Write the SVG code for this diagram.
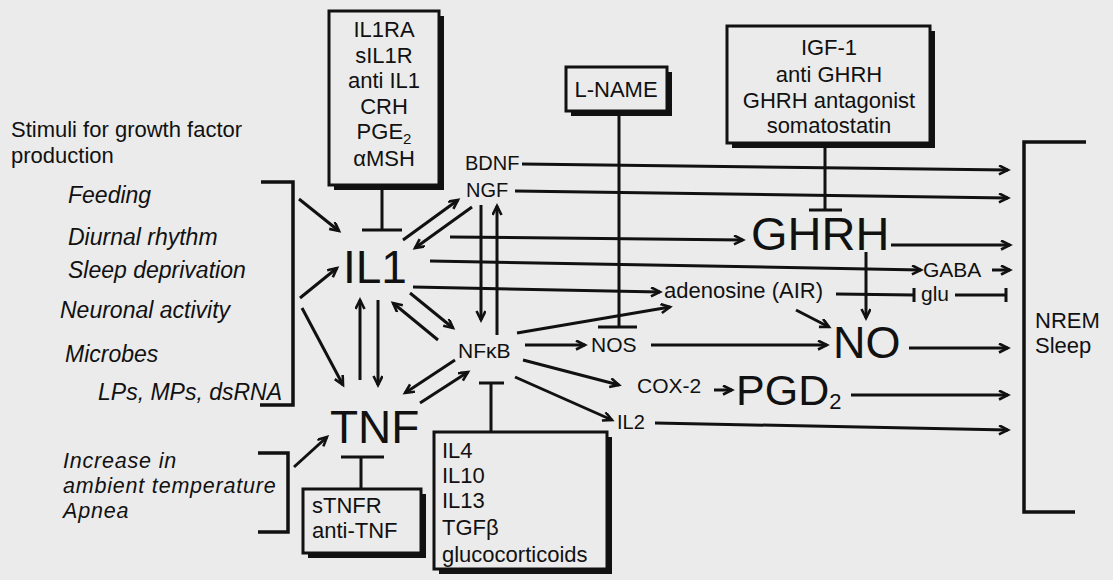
<svg xmlns="http://www.w3.org/2000/svg" width="1113" height="580" viewBox="0 0 1113 580">
<defs>
<style>
.ln{stroke:#111;stroke-width:3;fill:none;stroke-linecap:butt}
.br{stroke:#111;stroke-width:3.5;fill:none}
.ar{marker-end:url(#ah)}
.t{font-family:"Liberation Sans",Arial,Helvetica,sans-serif;fill:#111}
.i{font-style:italic;font-size:23px}
.i2{font-style:italic;font-size:21.5px;letter-spacing:0.8px}
.s{font-size:22px}
.c{text-anchor:middle}
.big{font-size:46px}
.box{fill:#ebebeb;stroke:#111;stroke-width:3}
.sh{fill:#111}
</style>
<marker id="ah" markerUnits="userSpaceOnUse" markerWidth="14" markerHeight="14" refX="10" refY="5" orient="auto">
<path d="M1,0.5 L10,5 L1,9.5" fill="none" stroke="#111" stroke-width="2.6"/>
</marker>
</defs>
<rect x="0" y="0" width="1113" height="580" fill="#ebebeb"/>

<g id="stimuli-label">
<text class="t" x="11" y="137" font-size="22">Stimuli for growth factor</text>
<text class="t" x="11" y="163" font-size="22">production</text>
</g>
<g id="stimuli-il1">
<text class="t i" x="68" y="203">Feeding</text>
<text class="t i" x="68" y="245">Diurnal rhythm</text>
<text class="t i" x="68" y="278">Sleep deprivation</text>
<text class="t i" x="60" y="318">Neuronal activity</text>
<text class="t i" x="65" y="362">Microbes</text>
<text class="t i" x="98" y="400">LPs, MPs, dsRNA</text>
</g>
<g id="stimuli-tnf">
<text class="t i2" x="63" y="468">Increase in</text>
<text class="t i2" x="63" y="493">ambient temperature</text>
<text class="t i2" x="63" y="518">Apnea</text>
</g>

<g id="il1-inhibitors">
<rect class="sh" x="334" y="16" width="110" height="174"/>
<rect class="box" x="329" y="11" width="110" height="174"/>
<text class="t s c" x="384" y="37">IL1RA</text>
<text class="t s c" x="384" y="63">sIL1R</text>
<text class="t s c" x="384" y="88">anti IL1</text>
<text class="t s c" x="384" y="114">CRH</text>
<text class="t s c" x="384" y="139">PGE<tspan font-size="15" dy="5">2</tspan></text>
<text class="t s c" x="384" y="166">αMSH</text>
</g>

<g id="lname">
<rect class="sh" x="571" y="72" width="101" height="44"/>
<rect class="box" x="566" y="67" width="101" height="44"/>
<text class="t s c" x="616" y="97">L-NAME</text>
</g>

<g id="ghrh-inhibitors">
<rect class="sh" x="732" y="31" width="203" height="117"/>
<rect class="box" x="727" y="26" width="203" height="117"/>
<text class="t s c" x="829" y="55">IGF-1</text>
<text class="t s c" x="829" y="82">anti GHRH</text>
<text class="t s c" x="829" y="108">GHRH antagonist</text>
<text class="t s c" x="829" y="133">somatostatin</text>
</g>

<g id="tnf-inhibitors">
<rect class="sh" x="308" y="494" width="118" height="64"/>
<rect class="box" x="303" y="489" width="118" height="64"/>
<text class="t s" x="312" y="513">sTNFR</text>
<text class="t s" x="312" y="538">anti-TNF</text>
</g>

<g id="nfkb-inhibitors">
<rect class="sh" x="439" y="437" width="173" height="137"/>
<rect class="box" x="434" y="432" width="173" height="137"/>
<text class="t s" x="442" y="458">IL4</text>
<text class="t s" x="442" y="483">IL10</text>
<text class="t s" x="442" y="508">IL13</text>
<text class="t s" x="442" y="535">TGFβ</text>
<text class="t s" x="442" y="562">glucocorticoids</text>
</g>

<g id="il1"><text class="t big" x="343" y="283" font-size="45">IL1</text></g>
<g id="tnf"><text class="t big" x="330" y="443">TNF</text></g>
<g id="nfkb"><text class="t" x="458" y="358" font-size="21">NFκB</text></g>
<g id="bdnf"><text class="t" x="465" y="170" font-size="20">BDNF</text></g>
<g id="ngf"><text class="t" x="466" y="197" font-size="20">NGF</text></g>
<g id="ghrh"><text class="t" x="751" y="250" font-size="47">GHRH</text></g>
<g id="gaba"><text class="t" x="923" y="277" font-size="21">GABA</text></g>
<g id="adenosine"><text class="t" x="664" y="298" font-size="22">adenosine (AIR)</text></g>
<g id="glu"><text class="t" x="921" y="301" font-size="21">glu</text></g>
<g id="nos"><text class="t" x="591" y="352" font-size="21">NOS</text></g>
<g id="no"><text class="t" x="833" y="358" font-size="45">NO</text></g>
<g id="cox2"><text class="t" x="637" y="393" font-size="21">COX-2</text></g>
<g id="pgd2"><text class="t" x="736" y="405" font-size="43">PGD<tspan font-size="22" dy="4">2</tspan></text></g>
<g id="il2"><text class="t" x="617" y="429" font-size="20">IL2</text></g>
<g id="nrem"><text class="t" x="1035" y="328" font-size="22">NREM</text><text class="t" x="1035" y="353" font-size="22">Sleep</text></g>

<g id="connectors">
<polyline class="br" points="261,182 293,182 293,405 260,405"/>
<polyline class="br" points="258,453 288,453 288,532 258,532"/>
<polyline class="br" points="1086,142 1024,142 1024,512 1075,512"/>

<line class="ln ar" x1="299" y1="199" x2="339" y2="231"/>
<line class="ln ar" x1="300" y1="298" x2="337" y2="268"/>
<line class="ln ar" x1="302" y1="308" x2="343" y2="385"/>
<line class="ln ar" x1="294" y1="467" x2="327" y2="437"/>
<line class="ln ar" x1="378" y1="300" x2="378" y2="385"/>
<line class="ln ar" x1="360" y1="380" x2="360" y2="300"/>
<line class="ln ar" x1="403" y1="240" x2="458" y2="200"/>
<line class="ln ar" x1="472" y1="207" x2="415" y2="248"/>
<line class="ln ar" x1="481" y1="205" x2="481" y2="320"/>
<line class="ln ar" x1="497" y1="335" x2="497" y2="206"/>
<line class="ln ar" x1="410" y1="293" x2="453" y2="328"/>
<line class="ln ar" x1="438" y1="340" x2="393" y2="303"/>
<line class="ln ar" x1="455" y1="360" x2="405" y2="393"/>
<line class="ln ar" x1="420" y1="403" x2="468" y2="372"/>
<line class="ln ar" x1="522" y1="164" x2="1008" y2="170"/>
<line class="ln ar" x1="515" y1="191" x2="1008" y2="198"/>
<line class="ln ar" x1="450" y1="237" x2="743" y2="240"/>
<line class="ln ar" x1="430" y1="261" x2="921" y2="270"/>
<line class="ln ar" x1="413" y1="287" x2="660" y2="292"/>
<line class="ln ar" x1="891" y1="245" x2="1010" y2="245"/>
<line class="ln ar" x1="992" y1="270" x2="1010" y2="270"/>
<line class="ln ar" x1="866" y1="252" x2="866" y2="318"/>
<line class="ln ar" x1="796" y1="310" x2="829" y2="327"/>
<line class="ln ar" x1="517" y1="333" x2="670" y2="307"/>
<line class="ln ar" x1="525" y1="345" x2="585" y2="345"/>
<line class="ln ar" x1="651" y1="345" x2="827" y2="345"/>
<line class="ln ar" x1="909" y1="348" x2="1008" y2="348"/>
<line class="ln ar" x1="523" y1="360" x2="619" y2="385"/>
<line class="ln ar" x1="714" y1="390" x2="732" y2="390"/>
<line class="ln ar" x1="851" y1="395" x2="1008" y2="395"/>
<line class="ln ar" x1="515" y1="377" x2="612" y2="420"/>
<line class="ln ar" x1="655" y1="423" x2="1008" y2="430"/>

<path class="ln" d="M382,190 V230 M362,230 H402"/>
<path class="ln" d="M619,116 V327 M598,327 H637"/>
<path class="ln" d="M825,148 V210 M809,210 H842"/>
<path class="ln" d="M361,488 V457 M341,457 H384"/>
<path class="ln" d="M491,432 V383 M479,383 H504"/>
<path class="ln" d="M836,294 L914,295 M914,288 V302"/>
<path class="ln" d="M955,295 H1006 M1006,288 V302"/>
</g>
</svg>
